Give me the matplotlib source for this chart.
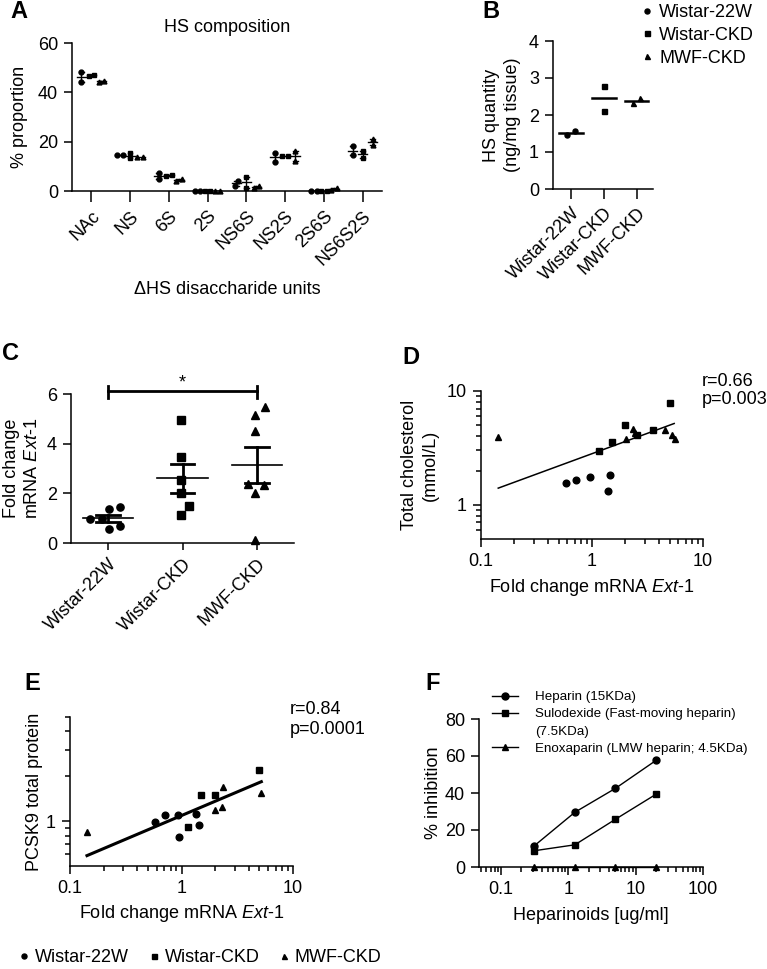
import numpy as np
import matplotlib
matplotlib.use('Agg')
import matplotlib.pyplot as plt
from matplotlib.lines import Line2D
from matplotlib.ticker import FixedLocator, NullFormatter, FuncFormatter

plt.rcParams['font.family'] = ['Liberation Sans', 'DejaVu Sans']
plt.rcParams['font.size'] = 13
plt.rcParams['mathtext.fontset'] = 'custom'
plt.rcParams['mathtext.rm'] = 'Liberation Sans'
plt.rcParams['mathtext.it'] = 'Liberation Sans:italic'
plt.rcParams['axes.linewidth'] = 1.1

W, H = 767, 969

# ---- data ----
groups = ['Wistar-22W', 'Wistar-CKD', 'MWF-CKD']
markers = ['o', 's', '^']

# A: HS composition (% proportion), two samples per group
units = ['NAc', 'NS', '6S', '2S', 'NS6S', 'NS2S', '2S6S', 'NS6S2S']
comp_w22 = [[48.4, 44.3], [14.6, 14.6], [4.9, 7.2], [0, 0], [2.2, 3.9], [15.5, 11.9], [0, 0], [18.2, 14.6]]
comp_wckd = [[46.8, 47.0], [13.2, 15.5], [6.2, 6.5], [0, 0], [5.8, 1.1], [14.3, 14.3], [0, 0], [13.5, 16.4]]
comp_mwf = [[44.3, 44.7], [13.7, 13.7], [4.2, 4.9], [0.2, 0], [1.1, 2.0], [16.2, 12.2], [0.4, 1.1], [18.6, 21.1]]

# B: HS quantity (ng/mg tissue)
hs_qty = [[1.47, 1.57], [2.78, 2.12], [2.33, 2.45]]

# C: fold change mRNA Ext-1
ext1_w22 = [1.45, 1.37, 0.96, 0.96, 0.56, 0.70]
ext1_wckd = [4.96, 3.48, 2.52, 2.0, 1.5, 1.14]
ext1_mwf = [5.46, 5.16, 4.53, 2.32, 2.38, 2.0, 0.13]

# D: Ext-1 vs total cholesterol
d_x_w22 = [0.58, 0.716, 0.956, 1.445, 1.38]
d_y_w22 = [1.54, 1.64, 1.75, 1.84, 1.33]
d_x_wckd = [1.15, 1.52, 2.0, 2.56, 3.55, 5.08]
d_y_wckd = [2.97, 3.58, 4.98, 4.07, 4.5, 7.8]
d_x_mwf = [0.143, 2.02, 2.35, 2.46, 4.58, 5.26, 5.56]
d_y_mwf = [3.96, 3.75, 4.68, 4.24, 4.53, 4.1, 3.75]
d_fit_x = [0.143, 5.5]
d_fit_y = [1.40, 5.18]

# E: Ext-1 vs PCSK9
e_x_w22 = [0.575, 0.708, 0.927, 1.36, 1.45, 0.946]
e_y_w22 = [0.99, 1.10, 1.10, 1.11, 0.94, 0.78]
e_x_wckd = [1.14, 1.50, 1.99, 4.99]
e_y_wckd = [0.91, 1.49, 1.50, 2.21]
e_x_mwf = [0.142, 2.0, 2.30, 2.38, 5.2]
e_y_mwf = [0.846, 1.19, 1.25, 1.69, 1.54]
e_fit_x = [0.142, 5.2]
e_fit_y = [0.587, 1.84]

# F: heparinoid inhibition
conc = [0.3125, 1.25, 5, 20]
heparin = [11.5, 29.6, 42.5, 57.6]
sulodexide = [8.8, 12.0, 25.8, 39.3]
enoxaparin = [0, 0, 0, 0]
f_labels = ['Heparin (15KDa)', 'Sulodexide (Fast-moving heparin)',
            'Enoxaparin (LMW heparin; 4.5KDa)']
f_label_extra = '(7.5KDa)'


def swarm(vals, px_per_unit, dist):
    # simple beeswarm: returns horizontal offsets in pixels
    y = np.asarray(vals, float) * px_per_unit
    offs = np.zeros(len(y))
    placed = []
    for i in np.argsort(y, kind='stable'):
        iv = []
        for j in placed:
            dy = abs(y[i] - y[j])
            if dy < dist:
                w = np.sqrt(dist ** 2 - dy ** 2)
                iv.append((offs[j] - w, offs[j] + w))
        cands = sorted([0.0] + [b for a, b in iv] + [a for a, b in iv], key=abs)
        for c in cands:
            if all(not (a + 1e-6 < c < b - 1e-6) for a, b in iv):
                offs[i] = c
                break
        placed.append(i)
    return offs - offs.mean()


def add_axes(l, t, r, b):
    ax = fig.add_axes([l / W, 1 - b / H, (r - l) / W, (b - t) / H])
    ax.spines['top'].set_visible(False)
    ax.spines['right'].set_visible(False)
    return ax


def ylabel_at(ax, text, xpx, box):
    l, t, r, b = box
    ax.set_ylabel(text, va='center', ha='center', linespacing=1.3)
    ax.yaxis.set_label_coords((xpx - l) / (r - l), 0.5)


def xlabel_at(ax, text, ypx, box):
    l, t, r, b = box
    ax.set_xlabel(text, va='center', ha='center')
    ax.xaxis.set_label_coords(0.5, (b - ypx) / (b - t))


def logfmt(v, p):
    return '%g' % v


fig = plt.figure(figsize=(W / 100, H / 100), dpi=100)

# ---------- A ----------
boxA = (72, 43, 382, 191)
ax = add_axes(*boxA)
gofs = [-0.26, 0, 0.26]
for g, data in enumerate([comp_w22, comp_wckd, comp_mwf]):
    for k, vals in enumerate(data):
        xc = k + gofs[g]
        dx = swarm(vals, 148 / 60, 5.5) / 38.75
        ax.plot(xc + dx, vals, markers[g], color='black', ms=3.5, clip_on=False, zorder=3)
        m = np.mean(vals)
        se = np.std(vals, ddof=1) / np.sqrt(len(vals))
        ax.plot([xc - 0.12, xc + 0.12], [m, m], color='black', lw=1)
        if se > 0:
            ax.plot([xc, xc], [m - se, m + se], color='black', lw=1)
            for yy in (m - se, m + se):
                ax.plot([xc - 0.06, xc + 0.06], [yy, yy], color='black', lw=1)
ax.set_xlim(-0.5, 7.5)
ax.set_ylim(0, 60)
ax.set_yticks([0, 20, 40, 60])
ax.set_xticks(range(len(units)))
ax.set_xticklabels(units, rotation=45, ha='right', rotation_mode='anchor')
ax.tick_params(axis='x', length=8, width=1.1, pad=4)
ax.tick_params(axis='y', length=6, width=1.1, pad=4)
ax.set_title('HS composition', fontsize=13, pad=8)
ylabel_at(ax, '% proportion', 20, boxA)
xlabel_at(ax, '\u0394HS disaccharide units', 290, boxA)

# ---------- B ----------
boxB = (553, 41, 653, 189)
ax = add_axes(*boxB)
for g, vals in enumerate(hs_qty):
    dx = swarm(vals, 37, 8.5) / 33
    ax.plot(g + dx, vals, markers[g], color='black', ms=3.6, zorder=3)
    m = np.mean(vals)
    ax.plot([g - 0.36, g + 0.36], [m, m], color='black', lw=1.8)
ax.set_xlim(-0.55, 2.5)
ax.set_ylim(0, 4)
ax.set_yticks([0, 1, 2, 3, 4])
ax.set_xticks(range(3))
ax.set_xticklabels(groups, rotation=45, ha='right', rotation_mode='anchor')
ax.tick_params(axis='x', length=7, width=1.1, pad=4)
ax.tick_params(axis='y', length=6, width=1.1, pad=4)
ylabel_at(ax, 'HS quantity\n(ng/mg tissue)', 502, boxB)

handles = [Line2D([], [], marker=m, color='black', ls='none', ms=3.6) for m in markers]
fig.legend(handles, groups, loc='upper left', bbox_to_anchor=(642 / W, 1 - 4 / H),
           frameon=False, handlelength=0.6, handletextpad=0.35, labelspacing=0.32,
           borderpad=0, borderaxespad=0, fontsize=13)

# ---------- C ----------
boxC = (71, 394, 294, 543)
ax = add_axes(*boxC)
for g, vals in enumerate([ext1_w22, ext1_wckd, ext1_mwf]):
    dx = swarm(vals, 149 / 6, 12) / 74.5
    ax.plot(g + dx, vals, markers[g], color='black', ms=5.2, clip_on=False, zorder=3)
    m = np.mean(vals)
    se = np.std(vals, ddof=1) / np.sqrt(len(vals))
    ax.plot([g - 0.34, g + 0.34], [m, m], color='black', lw=1.2)
    ax.plot([g, g], [m - se, m + se], color='black', lw=2)
    for yy in (m - se, m + se):
        ax.plot([g - 0.16, g + 0.16], [yy, yy], color='black', lw=2)
ax.plot([0, 2], [6.12, 6.12], color='black', lw=2, clip_on=False)
ax.plot([0, 0], [5.84, 6.32], color='black', lw=2, clip_on=False)
ax.plot([2, 2], [5.84, 6.32], color='black', lw=2, clip_on=False)
ax.text(1, 6.45, '*', ha='center', va='center', fontsize=13)
ax.set_xlim(-0.5, 2.5)
ax.set_ylim(0, 6)
ax.set_yticks([0, 2, 4, 6])
ax.set_xticks(range(3))
ax.set_xticklabels(groups, rotation=45, ha='right', rotation_mode='anchor')
ax.tick_params(axis='x', length=5, width=1.1, pad=4)
ax.tick_params(axis='y', length=6, width=1.1, pad=4)
ylabel_at(ax, 'Fold change\nmRNA $\\it{Ext}$-$\\it{1}$', 22, boxC)


def log_scatter(ax, xs, ys, ylim, ymajor, yminor, fit_x, fit_y, fit_lw, box, ms):
    for g in range(3):
        ax.plot(xs[g], ys[g], markers[g], color='black', ms=ms, clip_on=False, zorder=3)
    ax.plot(fit_x, fit_y, color='black', lw=fit_lw)
    ax.set_xscale('log')
    ax.set_yscale('log')
    ax.set_xlim(0.1, 10)
    ax.set_ylim(*ylim)
    ax.xaxis.set_major_locator(FixedLocator([0.1, 1, 10]))
    ax.xaxis.set_minor_locator(FixedLocator([0.2, 0.3, 0.4, 0.5, 0.6, 0.7, 0.8, 0.9,
                                             2, 3, 4, 5, 6, 7, 8, 9]))
    ax.xaxis.set_major_formatter(FuncFormatter(logfmt))
    ax.xaxis.set_minor_formatter(NullFormatter())
    ax.yaxis.set_major_locator(FixedLocator(ymajor))
    ax.yaxis.set_minor_locator(FixedLocator(yminor))
    ax.yaxis.set_major_formatter(FuncFormatter(logfmt))
    ax.yaxis.set_minor_formatter(NullFormatter())
    ax.tick_params(which='major', length=6, width=1.1, pad=4)
    ax.tick_params(which='minor', length=3.5, width=1.1)
    xlabel_at(ax, 'Fold change mRNA $\\it{Ext}$-$\\it{1}$', box[3] + 48, box)


# ---------- D ----------
boxD = (481, 391, 703, 539)
ax = add_axes(*boxD)
log_scatter(ax, [d_x_w22, d_x_wckd, d_x_mwf], [d_y_w22, d_y_wckd, d_y_mwf],
            (0.5, 10), [1, 10], [0.6, 0.7, 0.8, 0.9, 2, 3, 4, 5, 6, 7, 8, 9],
            d_fit_x, d_fit_y, 1.1, boxD, 4.8)
ylabel_at(ax, 'Total cholesterol\n(mmol/L)', 420, boxD)
fig.text(702 / W, 1 - 382 / H, 'r=0.66', ha='left', va='center', fontsize=13)
fig.text(702 / W, 1 - 399 / H, 'p=0.003', ha='left', va='center', fontsize=13)

# ---------- E ----------
boxE = (70, 717, 293, 866)
ax = add_axes(*boxE)
log_scatter(ax, [e_x_w22, e_x_wckd, e_x_mwf], [e_y_w22, e_y_wckd, e_y_mwf],
            (0.5, 5), [1], [0.6, 0.7, 0.8, 0.9, 2, 3, 4, 5],
            e_fit_x, e_fit_y, 2.2, boxE, 4.8)
ylabel_at(ax, 'PCSK9 total protein', 35, boxE)
fig.text(290 / W, 1 - 710 / H, 'r=0.84', ha='left', va='center', fontsize=13)
fig.text(290 / W, 1 - 730 / H, 'p=0.0001', ha='left', va='center', fontsize=13)

handles = [Line2D([], [], marker=m, color='black', ls='none', ms=3.6) for m in markers]
fig.legend(handles, groups, loc='center left', bbox_to_anchor=(19 / W, 1 - 958 / H),
           ncol=3, frameon=False, handlelength=0.6, handletextpad=0.3, columnspacing=1.05,
           borderpad=0, borderaxespad=0, fontsize=13)

# ---------- F ----------
boxF = (479, 719, 703, 867)
ax = add_axes(*boxF)
fh = []
for g, vals in enumerate([heparin, sulodexide, enoxaparin]):
    ln, = ax.plot(conc, vals, marker=markers[g], color='black', lw=1, ms=5,
                  clip_on=False, zorder=3)
    fh.append(ln)
ax.set_xscale('log')
ax.set_xlim(0.047, 100)
ax.set_ylim(0, 80)
ax.set_yticks([0, 20, 40, 60, 80])
ax.xaxis.set_major_locator(FixedLocator([0.1, 1, 10, 100]))
ax.xaxis.set_minor_locator(FixedLocator([0.05, 0.06, 0.07, 0.08, 0.09] +
                                        [a * b for b in (0.1, 1, 10) for a in range(2, 10)]))
ax.xaxis.set_major_formatter(FuncFormatter(logfmt))
ax.xaxis.set_minor_formatter(NullFormatter())
ax.tick_params(which='major', length=6, width=1.1, pad=4)
ax.tick_params(which='minor', length=3.5, width=1.1)
ylabel_at(ax, '% inhibition', 433, boxF)
xlabel_at(ax, 'Heparinoids [ug/ml]', 915, boxF)
blank = Line2D([], [], ls='none')
fig.legend([fh[0], fh[1], blank, fh[2]],
           [f_labels[0], f_labels[1], f_label_extra, f_labels[2]],
           loc='upper left', bbox_to_anchor=(492 / W, 1 - 691 / H),
           frameon=False, handlelength=1.95, handletextpad=1.25, labelspacing=0.36,
           borderpad=0, borderaxespad=0, fontsize=9.6)

# panel letters
for lab, xp, yp in [('A', 10, 12), ('B', 482, 12), ('C', 2, 353),
                    ('D', 402, 357), ('E', 24, 683), ('F', 425, 683)]:
    fig.text(xp / W, 1 - yp / H, lab, fontsize=17, fontweight='bold', ha='left', va='center')

fig.savefig('out.png', dpi=100)
